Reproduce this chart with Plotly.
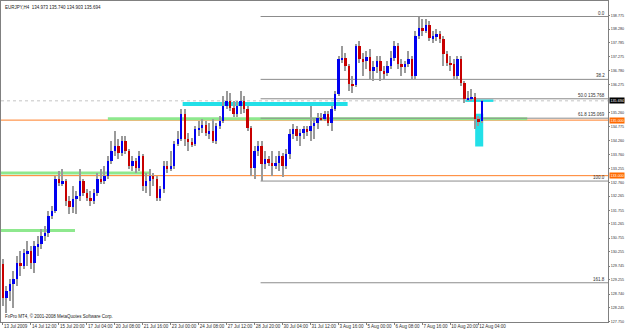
import plotly.graph_objects as go

# ---------------- data (EURJPY H4) ----------------
opens = [129.81, 128.59, 128.84, 129.09, 129.27, 129.85, 129.74, 130.21, 130.28, 129.85,
         130.46, 130.53, 130.82, 130.93, 131.54, 131.72, 132.87, 132.73, 132.80, 132.08,
         131.86, 132.15, 132.26, 132.80, 132.37, 132.19, 132.08, 132.37, 132.87, 132.80,
         132.98, 133.52, 133.88, 134.06, 133.81, 134.24, 133.88, 133.34, 133.52, 133.27,
         133.70, 132.62, 132.80, 132.98, 132.87, 132.19, 132.51, 133.34, 133.23, 133.34,
         134.13, 134.31, 135.21, 134.31, 134.20, 134.13, 134.67, 134.71, 134.82, 134.53,
         134.60, 134.24, 134.78, 134.96, 135.50, 135.68, 135.43, 135.21, 135.50, 135.68,
         135.39, 134.71, 133.27, 133.88, 134.06, 133.41, 133.59, 133.45, 133.34, 133.45,
         133.70, 133.34, 133.77, 134.49, 134.67, 134.42, 134.53, 134.67, 134.60, 134.78,
         134.89, 135.07, 135.03, 135.21, 134.89, 135.39, 135.93, 137.19, 137.23, 136.94,
         136.29, 136.26, 137.66, 137.19, 137.12, 137.26, 136.76, 136.90, 137.12, 136.76,
         136.69, 136.94, 137.23, 137.66, 137.01, 136.94, 137.01, 137.19, 136.58, 138.02,
         138.31, 138.20, 138.42, 137.95, 138.02, 138.09, 137.91, 137.37, 137.05, 137.01,
         136.58, 137.19, 136.33, 135.75, 135.79, 135.82, 135.03, 134.973]
highs = [129.99, 129.02, 129.27, 129.56, 130.10, 130.28, 130.35, 130.64, 130.46, 130.64,
         130.82, 131.07, 131.18, 131.72, 131.90, 132.98, 133.16, 133.23, 132.87, 132.26,
         132.62, 132.44, 133.23, 132.87, 132.51, 132.44, 132.51, 133.09, 133.23, 133.34,
         133.70, 134.24, 134.60, 134.31, 134.42, 134.42, 133.95, 133.70, 133.63, 133.88,
         133.77, 133.09, 133.23, 133.09, 132.98, 132.62, 133.52, 133.52, 133.88, 134.24,
         134.60, 135.39, 135.39, 134.53, 134.35, 134.78, 134.96, 135.03, 134.96, 134.89,
         135.03, 134.89, 135.14, 135.86, 136.04, 135.97, 135.68, 135.68, 136.04, 135.86,
         135.50, 134.78, 134.06, 134.24, 134.24, 133.88, 133.70, 133.88, 133.70, 133.88,
         133.81, 133.95, 134.67, 134.85, 134.78, 134.67, 134.78, 134.78, 135.50, 135.03,
         135.25, 135.25, 135.32, 135.32, 135.50, 136.04, 137.30, 137.66, 137.41, 137.01,
         136.58, 137.73, 137.84, 137.41, 137.48, 137.55, 137.12, 137.30, 137.30, 136.94,
         137.12, 137.48, 137.84, 137.77, 137.19, 137.12, 137.48, 137.30, 138.20, 138.73,
         138.63, 138.63, 138.56, 138.20, 138.27, 138.20, 138.02, 137.48, 137.30, 137.19,
         137.30, 137.30, 136.40, 136.04, 136.11, 135.97, 135.14, 135.740]
lows = [128.30, 128.05, 128.48, 128.23, 129.02, 129.38, 129.63, 129.74, 129.63, 129.49,
        130.10, 130.35, 130.64, 130.78, 131.43, 131.65, 132.62, 132.62, 131.90, 131.61,
        131.65, 131.61, 132.08, 132.26, 132.08, 131.90, 131.97, 132.26, 132.69, 132.69,
        132.87, 133.41, 133.70, 133.59, 133.70, 133.77, 133.23, 133.16, 133.09, 133.16,
        132.44, 132.37, 132.26, 132.62, 132.08, 132.08, 132.37, 133.09, 133.16, 133.23,
        134.06, 134.24, 134.06, 133.88, 134.02, 134.06, 134.42, 134.53, 134.42, 134.31,
        134.17, 134.13, 134.67, 134.89, 135.39, 135.32, 135.10, 135.10, 135.21, 135.25,
        134.60, 132.98, 132.87, 133.70, 132.806, 133.23, 133.34, 132.98, 133.23, 133.16,
        132.94, 133.23, 133.59, 134.31, 134.24, 134.06, 134.31, 134.42, 134.24, 134.31,
        134.67, 134.96, 134.96, 134.78, 134.60, 135.32, 135.86, 137.05, 136.76, 136.04,
        135.97, 136.18, 137.05, 136.58, 136.83, 136.47, 136.40, 136.69, 136.40, 136.47,
        136.58, 136.83, 137.12, 136.83, 136.58, 136.69, 136.90, 136.47, 136.47, 137.91,
        138.02, 138.13, 137.84, 137.77, 137.84, 137.77, 136.94, 136.94, 136.76, 136.47,
        136.47, 136.22, 135.61, 135.68, 135.68, 134.67, 134.78, 134.903]
closes = [128.59, 128.84, 129.09, 129.27, 129.85, 129.74, 130.21, 130.28, 129.85, 130.46,
          130.53, 130.82, 130.93, 131.54, 131.72, 132.87, 132.73, 132.80, 132.08, 131.86,
          132.15, 132.26, 132.80, 132.37, 132.19, 132.08, 132.37, 132.87, 132.80, 132.98,
          133.52, 133.88, 134.06, 133.81, 134.24, 133.88, 133.34, 133.52, 133.27, 133.70,
          132.62, 132.80, 132.98, 132.87, 132.19, 132.51, 133.34, 133.23, 133.34, 134.13,
          134.31, 135.21, 134.31, 134.20, 134.13, 134.67, 134.71, 134.82, 134.53, 134.60,
          134.24, 134.78, 134.96, 135.50, 135.68, 135.43, 135.21, 135.50, 135.68, 135.39,
          134.71, 133.27, 133.88, 134.06, 133.41, 133.59, 133.45, 133.34, 133.45, 133.70,
          133.34, 133.77, 134.49, 134.67, 134.42, 134.53, 134.67, 134.60, 134.78, 134.89,
          135.07, 135.03, 135.21, 134.89, 135.39, 135.93, 137.19, 137.23, 136.94, 136.29,
          136.26, 137.66, 137.19, 137.12, 137.26, 136.76, 136.90, 137.12, 136.76, 136.69,
          136.94, 137.23, 137.66, 137.01, 136.94, 137.01, 137.19, 136.58, 138.02, 138.31,
          138.20, 138.42, 137.95, 138.02, 138.09, 137.91, 137.37, 137.05, 137.01, 136.58,
          137.19, 136.33, 135.75, 135.79, 135.82, 135.03, 134.96, 135.694]

time_tick_bars = [0, 8, 16, 24, 32, 40, 48, 56, 64, 72, 80, 88, 96, 104, 112, 120, 128, 136]
time_tick_labels = ["13 Jul 2009", "14 Jul 12:00", "15 Jul 20:00", "17 Jul 04:00", "20 Jul 08:00",
                    "21 Jul 16:00", "23 Jul 00:00", "24 Jul 08:00", "27 Jul 12:00", "28 Jul 20:00",
                    "30 Jul 04:00", "31 Jul 12:00", "3 Aug 16:00", "5 Aug 00:00", "6 Aug 08:00",
                    "7 Aug 16:00", "10 Aug 20:00", "12 Aug 04:00"]
price_ticks = [138.775, 138.280, 137.785, 137.275, 136.780, 136.275, 135.260, 134.775, 134.260,
               133.760, 133.255, 132.760, 132.265, 131.755, 131.265, 130.755, 130.255, 129.745,
               129.255, 128.740, 128.245, 127.750]

fib_high = 138.73
fib_low = 132.806
fib_levels = [0.0, 38.2, 50.0, 61.8, 100.0, 161.8]
fib_show_price = [False, False, True, True, False, False]
fib_start_bar = 74

round_levels = [135.000, 133.000]
bid_price = 135.694
green_levels = [135.05, 133.10, 131.03]
green_from = [30, -1, -1]
green_to = [150, 42, 20.6]
cyan_levels = [135.58, 135.70]
cyan_from = [51.4, 132.3]
cyan_to = [98.6, 140.3]
cyan_box = [135.1, 137.4, 134.05, 135.23]   # bar from, bar to, price low, price high

header = "EURJPY,H4  134.973 135.740 134.903 135.694"
copyright_txt = "FxPro MT4, \u00a9 2001-2008 MetaQuotes Software Corp."

# ---------------- styles ----------------
BLUE = "#0000f0"
RED = "#c80000"
WICK = "#9a9a9a"
AXIS = "#808080"
FONT = "Liberation Sans"
FS = 4.5
FS_AX = 3.7

n = len(closes)
idx = list(range(n))
up = [c >= o for o, c in zip(opens, closes)]
body_base = [min(o, c) for o, c in zip(opens, closes)]
body_h = [max(abs(c - o), 0.035) for o, c in zip(opens, closes)]
wick_h = [h - l for h, l in zip(highs, lows)]

fig = go.Figure()
fig.add_bar(x=idx, y=wick_h, base=lows, width=0.3,
            marker=dict(color=WICK, line_width=0), hoverinfo="skip", showlegend=False)
fig.add_bar(x=idx, y=body_h, base=body_base, width=0.68,
            marker=dict(color=[BLUE if u else RED for u in up], line_width=0),
            hoverinfo="skip", showlegend=False)

shapes = []
annotations = []
X_MAX = 173.1

# bid line (dotted)
shapes.append(dict(type="line", xref="paper", x0=0, x1=1, y0=bid_price, y1=bid_price,
                   line=dict(color="#c4c4c4", width=1, dash="dot"), layer="below"))
# round-number lines
for lv in round_levels:
    shapes.append(dict(type="line", xref="paper", x0=0, x1=1, y0=lv, y1=lv,
                       line=dict(color="#ff7f27", width=1), layer="below"))
# green zones
for lv, a, b in zip(green_levels, green_from, green_to):
    shapes.append(dict(type="line", x0=a, x1=b, y0=lv, y1=lv,
                       line=dict(color="#8ee88e", width=3), layer="below"))
# cyan zones
for lv, a, b in zip(cyan_levels, cyan_from, cyan_to):
    shapes.append(dict(type="line", x0=a, x1=b, y0=lv, y1=lv,
                       line=dict(color="#22e0e8", width=4 if a < 100 else 2.5), layer="below"))
shapes.append(dict(type="rect", x0=cyan_box[0], x1=cyan_box[1], y0=cyan_box[2], y1=cyan_box[3],
                   fillcolor="#22e0e8", line_width=0, layer="below"))
# fibonacci
rng = fib_high - fib_low
for lv, showp in zip(fib_levels, fib_show_price):
    p = fib_high - rng * lv / 100.0
    shapes.append(dict(type="line", x0=fib_start_bar - 0.3, x1=X_MAX, y0=p, y1=p,
                       line=dict(color="#8c8c8c", width=1), layer="below"))
    txt = f"{lv:.1f}" + (f" {p:.3f}" if showp else "")
    annotations.append(dict(x=1, xref="paper", y=p, yref="y", text=txt, showarrow=False,
                            xanchor="right", yanchor="bottom", xshift=-1, yshift=-1,
                            font=dict(family=FONT, size=FS, color="#303030")))

# price boxes on the axis
for lv, bg in [(bid_price, "#000000"), (round_levels[0], "#ff6a00"), (round_levels[1], "#ff6a00")]:
    annotations.append(dict(x=1, xref="paper", y=lv, yref="y", text=f"{lv:.3f}", showarrow=False,
                            xanchor="left", yanchor="middle", xshift=1, bgcolor=bg, borderpad=0.5,
                            font=dict(family=FONT, size=FS_AX, color="#ffffff")))

annotations.append(dict(x=0, xref="paper", y=1, yref="paper", text=header, showarrow=False,
                        xanchor="left", yanchor="top", xshift=2, yshift=-2,
                        font=dict(family=FONT, size=FS, color="#202020")))
annotations.append(dict(x=0, xref="paper", y=0, yref="paper", text=copyright_txt, showarrow=False,
                        xanchor="left", yanchor="bottom", xshift=2, yshift=1,
                        font=dict(family=FONT, size=FS, color="#202020")))

fig.update_layout(
    width=625, height=330,
    margin=dict(l=1, r=17, t=1, b=8, autoexpand=False),
    paper_bgcolor="white", plot_bgcolor="white",
    barmode="overlay", bargap=0,
    shapes=shapes, annotations=annotations,
    showlegend=False,
    xaxis=dict(range=[-0.57, X_MAX], tickvals=time_tick_bars, ticktext=time_tick_labels,
               ticks="outside", ticklen=2, tickcolor=AXIS, tickangle=0,
               ticklabelposition="outside right",
               tickfont=dict(family=FONT, size=FS, color="#303030"),
               showgrid=False, zeroline=False, showline=True, linecolor=AXIS, mirror=True,
               fixedrange=True),
    yaxis=dict(range=[127.732, 139.288], side="right", tickvals=price_ticks,
               ticktext=[f"{v:.3f}" for v in price_ticks],
               ticks="outside", ticklen=1, tickcolor=AXIS,
               tickfont=dict(family=FONT, size=FS_AX, color="#303030"),
               showgrid=False, zeroline=False, showline=True, linecolor=AXIS, mirror=True,
               fixedrange=True),
)

fig.write_html("out.html")
